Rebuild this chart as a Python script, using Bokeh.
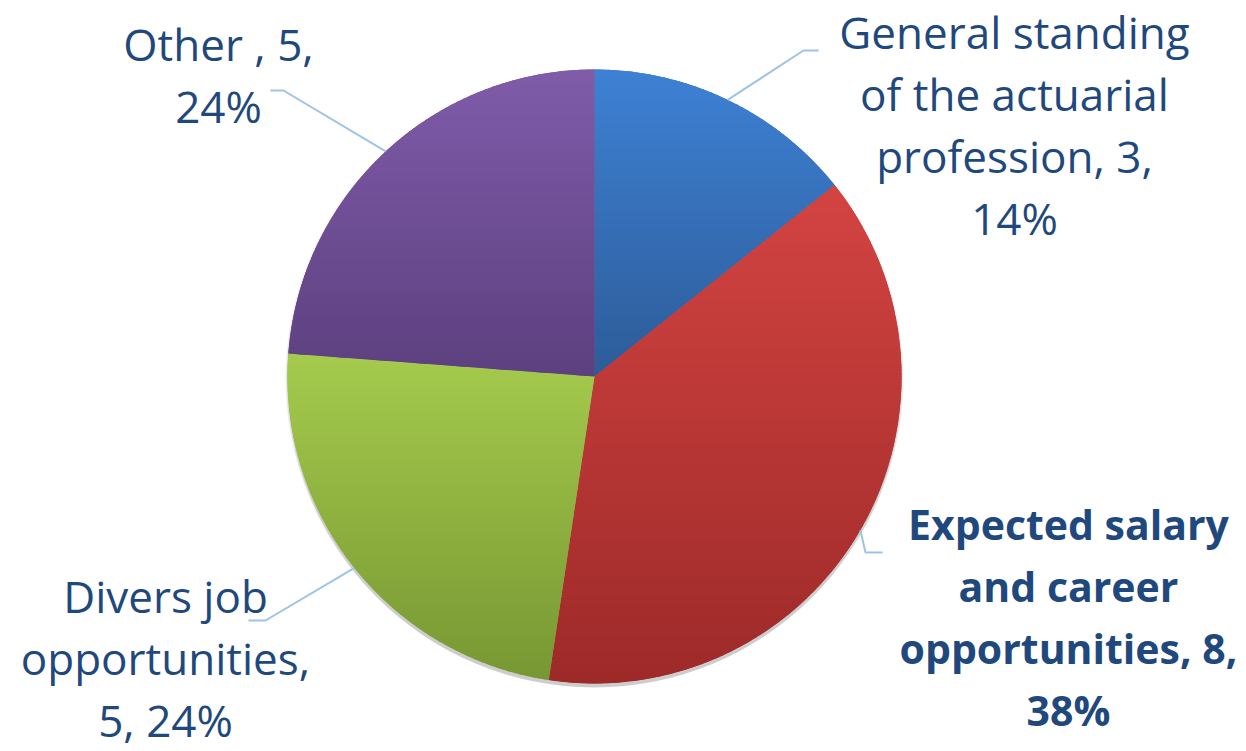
import textwrap
import numpy as np
from bokeh.plotting import figure
from bokeh.models import Range1d, ColumnDataSource
from bokeh.embed import file_html
from bokeh.resources import INLINE
from bokeh.core.properties import value

# ---------------- data ----------------
categories = ["General standing of the actuarial profession",
              "Expected salary and career opportunities",
              "Divers job opportunities",
              "Other "]
counts = [3, 8, 5, 5]
top_colors = ["#3e81d4", "#d34442", "#a5cb4d", "#805ca9"]
bottom_colors = ["#2d5c99", "#9d2a29", "#789733", "#5c407f"]
wrap_widths = [16, 17, 14, 10]
bold_label = [False, True, False, False]

# ---------------- layout ----------------
W, H = 1246, 751
def X(ix): return ix
def Y(iy): return H - iy

CX, CY, R = X(594), Y(376), 307
FONT = "Open Sans"
FS_REG = "44px"
FS_BOLD = "41px"
TXT = "#1f497d"
LEAD = "#9dc3e6"
label_center_x = [1014, 1068, 165, 218]
label_first_baseline = [31, 523, 595, 43]
line_step = 62.0
leader_elbow = [(803, 50), (865, 552), (265, 620), (283, 90)]
leader_end = [(818, 50), (882, 552), (248, 620), (270, 90)]

p = figure(width=W, height=H, x_range=Range1d(0, W), y_range=Range1d(0, H),
           output_backend="svg", toolbar_location=None, min_border=0,
           x_axis_location=None, y_axis_location=None, outline_line_color=None)
p.grid.visible = False
p.background_fill_color = "white"
p.border_fill_color = "white"

total = sum(counts)
cum = np.concatenate([[0], np.cumsum(counts)])
starts = [np.pi / 2 - 2 * np.pi * cum[i] / total for i in range(len(counts))]
ends = [np.pi / 2 - 2 * np.pi * cum[i + 1] / total for i in range(len(counts))]
mids = [(s + e) / 2 for s, e in zip(starts, ends)]

def hex2rgb(h):
    h = h.lstrip("#")
    return np.array([int(h[i:i + 2], 16) for i in (0, 2, 4)], dtype=float)

def mix(c0, c1, t):
    c = hex2rgb(c0) * (1 - t) + hex2rgb(c1) * t
    return "#%02x%02x%02x" % tuple(int(round(v)) for v in c)

# soft shadow
for off, rr, a in [(2, R + 2, 0.06), (3, R + 1, 0.07), (4, R, 0.08)]:
    p.circle(x=[CX], y=[CY - off], radius=rr, fill_color="black", fill_alpha=a, line_color=None)

# base wedges
src = ColumnDataSource(dict(start=starts, end=ends,
                            color=[mix(t, b, 0.5) for t, b in zip(top_colors, bottom_colors)]))
p.wedge(x=CX, y=CY, radius=R, start_angle="start", end_angle="end", direction="clock",
        fill_color="color", line_color=None, source=src)

# gradient overlay (vertical, per slice)
def clip(poly, yv, keep_above):
    out = []
    n = len(poly)
    for k in range(n):
        a = poly[k]; b = poly[(k + 1) % n]
        ina = a[1] >= yv if keep_above else a[1] <= yv
        inb = b[1] >= yv if keep_above else b[1] <= yv
        if ina:
            out.append(a)
        if ina != inb:
            t = (yv - a[1]) / (b[1] - a[1])
            out.append((a[0] + t * (b[0] - a[0]), yv))
    return out

gx, gy, gc = [], [], []
for i in range(len(counts)):
    ang = np.linspace(starts[i], ends[i], 240)
    poly = [(CX, CY)] + [(CX + R * np.cos(a), CY + R * np.sin(a)) for a in ang]
    ys = [q[1] for q in poly]
    ytop, ybot = max(ys), min(ys)
    step = 3.0
    yb = ytop
    while yb > ybot:
        y1 = yb + 0.9
        y0 = yb - step
        piece = clip(clip(poly, y0, True), y1, False)
        if len(piece) >= 3:
            t = (ytop - (yb - step / 2)) / (ytop - ybot)
            gx.append([q[0] for q in piece]); gy.append([q[1] for q in piece])
            gc.append(mix(top_colors[i], bottom_colors[i], min(max(t, 0), 1)))
        yb -= step
p.patches(xs="xs", ys="ys", fill_color="c", line_color=None,
          source=ColumnDataSource(dict(xs=gx, ys=gy, c=gc)))

# leader lines
for i in range(len(counts)):
    sx, sy = CX + R * np.cos(mids[i]), CY + R * np.sin(mids[i])
    ex, ey = leader_elbow[i]
    fx, fy = leader_end[i]
    p.line(x=[sx, X(ex), X(fx)], y=[sy, Y(ey), Y(fy)], line_color=LEAD, line_width=2)

# labels
for i, cat in enumerate(categories):
    pct = round(100 * counts[i] / total)
    label = f"{cat}, {counts[i]}, {pct}%"
    lines = textwrap.wrap(label, wrap_widths[i], break_long_words=False)
    for j, ln in enumerate(lines):
        p.text(x=[X(label_center_x[i])], y=[Y(label_first_baseline[i] + j * line_step)], text=[ln],
               text_font=value(FONT), text_font_size=FS_BOLD if bold_label[i] else FS_REG,
               text_color=TXT, text_font_style="bold" if bold_label[i] else "normal",
               text_align="center", text_baseline="alphabetic")

open("out.html", "w").write(file_html(p, INLINE))
